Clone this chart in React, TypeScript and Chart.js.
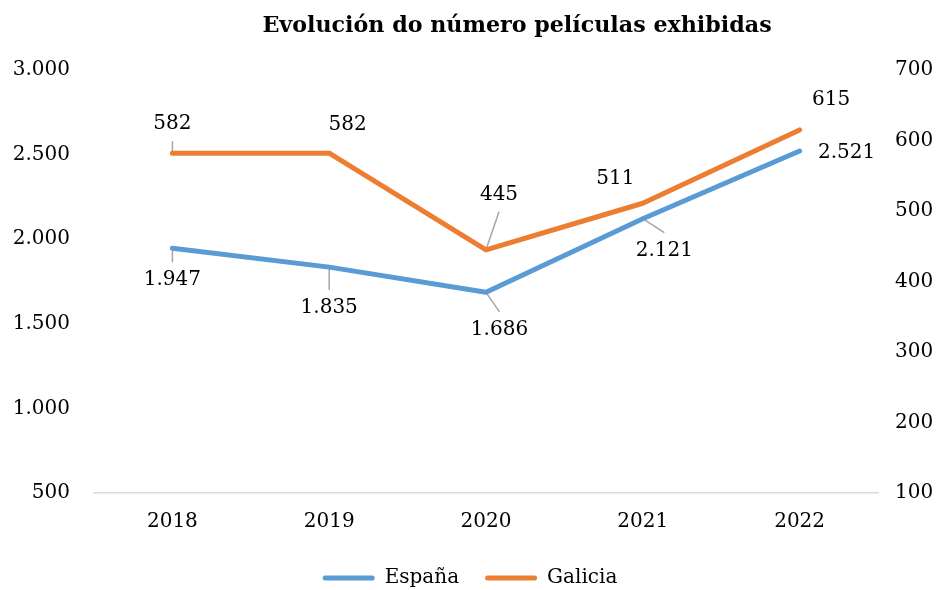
import React, { useEffect, useRef } from "react";
import { Chart, registerables } from "chart.js";

Chart.register(...registerables);

// ---- data ----
const years = ["2018", "2019", "2020", "2021", "2022"];
const espana = [1947, 1835, 1686, 2121, 2521];
const galicia = [582, 582, 445, 511, 615];
const leftMin = 500;
const leftMax = 3000;
const leftStep = 500;
const rightMin = 100;
const rightMax = 700;
const rightStep = 100;
const titleText = "Evolución do número películas exhibidas";

// ---- label placement (style, offsets from point in px) ----
const espanaLabelOffsets = [
  [0, 32],
  [0, 41],
  [13.5, 37.5],
  [21.5, 32],
  [47, 1.5],
];
const espanaLeaders = [true, true, true, true, false];
const galiciaLabelOffsets = [
  [0, -29],
  [18.5, -28],
  [13, -55],
  [-27.5, -24],
  [31.5, -30],
];
const galiciaLeaders = [true, false, true, false, false];

const FONT = "'DejaVu Serif'";
const BLUE = "#5B9BD5";
const ORANGE = "#ED7D31";

const fmt = (v: number) =>
  String(Math.round(v)).replace(/\B(?=(\d{3})+(?!\d))/g, ".");

const leaderPlugin = {
  id: "leaders",
  beforeDatasetsDraw(chart: any) {
    const ctx = chart.ctx;
    chart.data.datasets.forEach((ds: any, di: number) => {
      const meta = chart.getDatasetMeta(di);
      meta.data.forEach((pt: any, i: number) => {
        if (!ds.leaders[i]) return;
        const [dx, dy] = ds.labelOffsets[i];
        const cx = pt.x + dx;
        const cy = pt.y + dy;
        const ey = dy > 0 ? cy - 18 : cy + 17;
        ctx.save();
        ctx.strokeStyle = "#A6A6A6";
        ctx.lineWidth = 1.5;
        ctx.beginPath();
        ctx.moveTo(pt.x, pt.y);
        ctx.lineTo(cx, ey);
        ctx.stroke();
        ctx.restore();
      });
    });
  },
};

const labelPlugin = {
  id: "pointLabels",
  afterDatasetsDraw(chart: any) {
    const ctx = chart.ctx;
    chart.data.datasets.forEach((ds: any, di: number) => {
      const meta = chart.getDatasetMeta(di);
      meta.data.forEach((pt: any, i: number) => {
        const [dx, dy] = ds.labelOffsets[i];
        ctx.save();
        ctx.font = `20px ${FONT}`;
        ctx.fillStyle = "#000";
        ctx.textAlign = "center";
        ctx.textBaseline = "middle";
        ctx.fillText(fmt(ds.data[i]), pt.x + dx, pt.y + dy);
        ctx.restore();
      });
    });
  },
};

const titlePlugin = {
  id: "customTitle",
  afterDraw(chart: any) {
    const ctx = chart.ctx;
    ctx.save();
    ctx.font = `bold 22.2px ${FONT}`;
    ctx.fillStyle = "#000";
    ctx.textAlign = "center";
    ctx.textBaseline = "middle";
    ctx.fillText(titleText, 517, 26);
    ctx.restore();
  },
};

export default function App() {
  const ref = useRef<HTMLCanvasElement | null>(null);

  useEffect(() => {
    if (!ref.current) return;
    const tickFont = { family: FONT, size: 20 };
    const chart = new Chart(ref.current, {
      type: "line",
      data: {
        labels: years,
        datasets: [
          {
            label: "España",
            data: espana,
            yAxisID: "y",
            borderColor: BLUE,
            backgroundColor: BLUE,
            borderWidth: 5,
            pointRadius: 0,
            borderCapStyle: "round",
            borderJoinStyle: "round",
            tension: 0,
            labelOffsets: espanaLabelOffsets,
            leaders: espanaLeaders,
          } as any,
          {
            label: "Galicia",
            data: galicia,
            yAxisID: "y1",
            borderColor: ORANGE,
            backgroundColor: ORANGE,
            borderWidth: 5,
            pointRadius: 0,
            borderCapStyle: "round",
            borderJoinStyle: "round",
            tension: 0,
            labelOffsets: galiciaLabelOffsets,
            leaders: galiciaLeaders,
          } as any,
        ],
      },
      options: {
        animation: false,
        responsive: false,
        layout: { padding: { top: 70, bottom: -8, left: 0, right: 0 } },
        plugins: {
          title: { display: false },
          tooltip: { enabled: false },
          legend: {
            position: "bottom",
            labels: {
              font: { family: FONT, size: 20 },
              color: "#000",
              boxWidth: 52,
              boxHeight: 5,
              padding: 26,
              generateLabels: (c: any) =>
                (Chart.defaults.plugins.legend.labels as any)
                  .generateLabels(c)
                  .map((l: any) => ({
                    ...l,
                    lineWidth: 0,
                    fillStyle: l.strokeStyle,
                    borderRadius: 2.5,
                  })),
            },
          },
        },
        scales: {
          x: {
            offset: true,
            grid: { display: false, drawTicks: false, offset: true },
            border: { display: true, color: "#D9D9D9", width: 1.5 },
            ticks: { font: tickFont, color: "#000", padding: 17 },
            afterFit: (s: any) => {
              s.height = 49;
            },
          },
          y: {
            position: "left",
            min: leftMin,
            max: leftMax,
            grid: { display: false, drawTicks: false },
            border: { display: false },
            ticks: {
              stepSize: leftStep,
              font: tickFont,
              color: "#000",
              padding: 24,
              callback: (v: any) => fmt(Number(v)),
            },
            afterFit: (s: any) => {
              s.width = 94;
            },
          },
          y1: {
            position: "right",
            min: rightMin,
            max: rightMax,
            grid: { display: false, drawTicks: false },
            border: { display: false },
            ticks: {
              stepSize: rightStep,
              font: tickFont,
              color: "#000",
              padding: 17,
              callback: (v: any) => fmt(Number(v)),
            },
            afterFit: (s: any) => {
              s.width = 62;
            },
          },
        },
      } as any,
      plugins: [leaderPlugin, labelPlugin, titlePlugin],
    });
    return () => chart.destroy();
  }, []);

  return (
    <div
      style={{
        position: "absolute",
        left: 0,
        top: 0,
        width: 940,
        height: 590,
        background: "#fff",
      }}
    >
      <canvas ref={ref} width={940} height={590} />
    </div>
  );
}
